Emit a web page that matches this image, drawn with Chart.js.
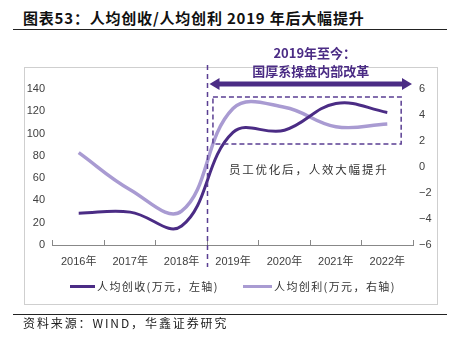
<!DOCTYPE html>
<html><head><meta charset="utf-8">
<script src="https://cdn.jsdelivr.net/npm/chart.js@4/dist/chart.umd.min.js"></script>
<style>
html,body{margin:0;padding:0;background:#fff;width:452px;height:347px;overflow:hidden;}
#wrap{position:relative;width:452px;height:347px;}
#box{position:absolute;left:24px;top:67px;width:412px;height:236px;border:1px solid #cfcfcf;}
canvas{position:absolute;left:0;top:0;}
.abs{position:absolute;white-space:nowrap;}
#title{left:23px;top:8px;font:bold 15px "Noto Sans CJK SC";letter-spacing:0.8px;color:#111;line-height:20px;}
.hline{position:absolute;left:13px;width:434px;height:1px;background:#222;}
#src{left:23px;top:315px;font:12px "Noto Sans CJK SC";letter-spacing:1.9px;color:#222;line-height:16px;}
.lg{top:278px;font:11px "Noto Sans CJK SC";letter-spacing:1.4px;color:#333;line-height:16px;}
.sw{position:absolute;height:3px;top:285px;}
</style></head>
<body><div id="wrap">
<div id="box"></div>
<div class="abs" id="title">图表53：人均创收/人均创利 2019 年后大幅提升</div>
<div class="hline" style="top:29px"></div>
<canvas id="c" width="452" height="347"></canvas>
<div class="sw" style="left:70px;width:25px;background:#4B2C85"></div>
<div class="abs lg" style="left:97px">人均创收(万元，左轴)</div>
<div class="sw" style="left:243px;width:29px;background:#A99BD2"></div>
<div class="abs lg" style="left:274px">人均创利(万元，右轴)</div>
<div class="hline" style="top:314px"></div>
<div class="abs" id="src">资料来源：WIND，华鑫证券研究</div>
</div>
<script>
const categories = ['2016年','2017年','2018年','2019年','2020年','2021年','2022年'];
const revenuePerCapita = [28.5, 29.5, 17, 101, 103, 127, 119];
const profitPerCapita = [1.1, -1.75, -3.4, 4.5, 4.6, 3.1, 3.3];
const leftTicks = [0, 20, 40, 60, 80, 100, 120, 140];
const rightTicks = [-6, -4, -2, 0, 2, 4, 6];
const seriesNames = ['人均创收(万元，左轴)', '人均创利(万元，右轴)'];
const noteTitle = ['2019年至今：', '国厚系操盘内部改革'];
const noteText = '员工优化后，人效大幅提升';

const DARK = '#4B2C85', LIGHT = '#A99BD2', AXIS = '#888888';
const tickFont = {family: 'Liberation Sans, "Noto Sans CJK SC"', size: 11};

const annot = {
  id: 'annot',
  afterDraw(chart) {
    const ctx = chart.ctx, x = chart.scales.x, yL = chart.scales.yL, yR = chart.scales.yR, a = chart.chartArea;
    ctx.save();
    const xv = Math.round(x.getPixelForValue(2.5)) + 0.5;
    ctx.strokeStyle = '#5A3E92'; ctx.lineWidth = 1.5; ctx.setLineDash([5, 4]);
    ctx.beginPath(); ctx.moveTo(xv, a.top - 24); ctx.lineTo(xv, a.bottom + 22); ctx.stroke();
    const rx1 = x.getPixelForValue(2.61), rx2 = x.getPixelForValue(6.27);
    const ry1 = yL.getPixelForValue(132.8), ry2 = yL.getPixelForValue(90.6);
    ctx.setLineDash([5, 3]);
    ctx.strokeRect(rx1, ry1, rx2 - rx1, ry2 - ry1);
    ctx.setLineDash([]);
    const ay = yL.getPixelForValue(144.5);
    const ax1 = xv + 2, ax2 = x.getPixelForValue(6.48);
    ctx.fillStyle = DARK; ctx.strokeStyle = DARK; ctx.lineWidth = 5;
    ctx.beginPath(); ctx.moveTo(ax1 + 8, ay); ctx.lineTo(ax2 - 8, ay); ctx.stroke();
    ctx.beginPath(); ctx.moveTo(ax1, ay); ctx.lineTo(ax1 + 10, ay - 6); ctx.lineTo(ax1 + 10, ay + 6); ctx.closePath(); ctx.fill();
    ctx.beginPath(); ctx.moveTo(ax2, ay); ctx.lineTo(ax2 - 10, ay - 6); ctx.lineTo(ax2 - 10, ay + 6); ctx.closePath(); ctx.fill();
    const cx = (ax1 + ax2) / 2;
    ctx.font = 'bold 13px "Noto Sans CJK SC"';
    ctx.textAlign = 'center'; ctx.textBaseline = 'middle';
    ctx.fillText(noteTitle[0], cx + 4, ay - 31);
    ctx.fillText(noteTitle[1], cx, ay - 13);
    ctx.fillStyle = '#333';
    ctx.font = '11.5px "Noto Sans CJK SC"';
    ctx.letterSpacing = '1.8px';
    ctx.textAlign = 'left';
    ctx.fillText(noteText, x.getPixelForValue(2.92), yR.getPixelForValue(-0.2));
    ctx.restore();
  }
};

new Chart(document.getElementById('c'), {
  type: 'line',
  data: {
    labels: categories,
    datasets: [
      {label: seriesNames[0], data: revenuePerCapita, yAxisID: 'yL', borderColor: DARK, borderWidth: 3, tension: 0.4, pointRadius: 0, order: 1},
      {label: seriesNames[1], data: profitPerCapita, yAxisID: 'yR', borderColor: LIGHT, borderWidth: 3.5, tension: 0.4, pointRadius: 0, order: 2}
    ]
  },
  options: {
    responsive: false, animation: false,
    layout: {padding: {left: 24, right: 14, top: 89, bottom: 42}},
    plugins: {legend: {display: false}, tooltip: {enabled: false}},
    scales: {
      x: {
        offset: true,
        grid: {offset: true, drawOnChartArea: false, drawTicks: true, tickLength: -5, color: AXIS},
        border: {display: true, color: AXIS, width: 1},
        ticks: {font: tickFont, color: '#404040', padding: 15, maxRotation: 0, autoSkip: false},
        afterFit(s) { s.height = 60; }
      },
      yL: {
        position: 'left', min: 0, max: 140,
        grid: {display: false, drawTicks: false}, border: {display: false},
        afterBuildTicks(s) { s.ticks = leftTicks.map(v => ({value: v})); },
        ticks: {font: tickFont, color: '#404040', padding: 8},
        afterFit(s) { s.width = 29; }
      },
      yR: {
        position: 'right', min: -6, max: 6,
        grid: {display: false, drawTicks: false}, border: {display: false},
        afterBuildTicks(s) { s.ticks = rightTicks.map(v => ({value: v})); },
        ticks: {font: tickFont, color: '#404040', padding: 6, callback: v => String(v).replace('-', '−')},
        afterFit(s) { s.width = 25; }
      }
    }
  },
  plugins: [annot]
});
</script>
</body></html>
